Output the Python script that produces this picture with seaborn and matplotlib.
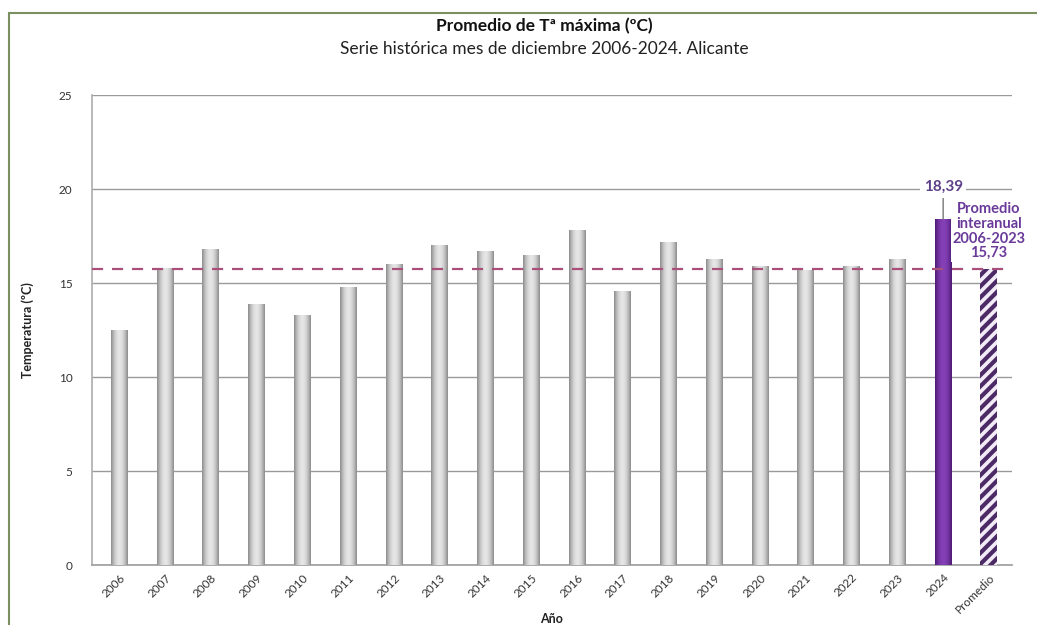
import matplotlib
matplotlib.use("Agg")
import matplotlib.pyplot as plt
import seaborn as sns
import numpy as np
import pandas as pd

years = ["2006", "2007", "2008", "2009", "2010", "2011", "2012", "2013", "2014",
         "2015", "2016", "2017", "2018", "2019", "2020", "2021", "2022", "2023",
         "2024", "Promedio"]
values = [12.5, 15.8, 16.8, 13.9, 13.3, 14.8, 16.0, 17.0, 16.7,
          16.5, 17.8, 14.6, 17.2, 16.3, 15.9, 15.7, 15.9, 16.3,
          18.39, 15.73]
kinds = ["hist"] * 18 + ["actual", "promedio"]
average = 15.73
label_2024 = "18,39"
label_prom = "Promedio\ninteranual\n2006-2023\n15,73"
yticks = [0, 5, 10, 15, 20, 25]

df = pd.DataFrame({"year": years, "value": values, "kind": kinds})

sns.set_theme(style="white")
plt.rcParams["font.family"] = ["Lato", "DejaVu Sans"]
purple_dark = "#4b2a66"
plt.rcParams["hatch.color"] = purple_dark
plt.rcParams["hatch.linewidth"] = 3.0

fig = plt.figure(figsize=(10.37, 6.25), dpi=100)
ax = fig.add_axes([0.0887, 0.096, 0.887, 0.752])

palette = {"hist": "#c4c4c4", "actual": "#6a2aa0", "promedio": "#ffffff"}
sns.barplot(data=df, x="year", y="value", hue="kind", palette=palette,
            dodge=False, width=0.37, legend=False, ax=ax, zorder=3,
            edgecolor="none")

bars = sorted(ax.patches, key=lambda p: p.get_x())
bars = [b for b in bars if b.get_height() > 0]
for b, kind in zip(bars, kinds):
    x0, w, h = b.get_x(), b.get_width(), b.get_height()
    if kind == "promedio":
        b.set_facecolor("#f3ecf7")
        b.set_hatch("///")
        b.set_edgecolor(purple_dark)
        b.set_linewidth(0)
        if hasattr(b, "set_hatch_linewidth"):
            b.set_hatch_linewidth(3.0)
        continue
    t = np.linspace(0, 1, 64)
    shade = np.sin(np.pi * (0.15 + 0.7 * t))
    if kind == "hist":
        base = np.array([0.55, 0.55, 0.55])
        top = np.array([0.90, 0.90, 0.90])
    else:
        base = np.array([0.30, 0.10, 0.45])
        top = np.array([0.52, 0.25, 0.72])
    s = (shade - shade.min()) / (shade.max() - shade.min())
    img = base[None, :] + (top - base)[None, :] * s[:, None]
    img = img[None, :, :]
    im = ax.imshow(img, extent=[x0, x0 + w, 0, h], aspect="auto", zorder=3.5,
                   interpolation="bilinear")
    im.set_clip_path(b)

ax.set_xlim(-0.6, 19.5)
ax.set_ylim(0, 25)
ax.set_yticks(yticks)
ax.set_yticklabels([str(v) for v in yticks], fontsize=8.5, color="#333333")
ax.yaxis.grid(True, color="#9a9a9a", linewidth=1.0, zorder=0)
ax.set_axisbelow(True)
for side in ["top", "right"]:
    ax.spines[side].set_visible(False)
ax.spines["left"].set_color("#b0b0b0")
ax.spines["bottom"].set_color("#a0a0a0")
ax.tick_params(axis="y", length=0, pad=14)
ax.tick_params(axis="x", length=0, pad=5)
plt.setp(ax.get_xticklabels(), rotation=45, ha="right", rotation_mode="anchor",
         fontsize=8.5, color="#333333")
ax.set_xlabel("Año", fontsize=9, fontweight="bold", color="#222222", labelpad=-2)
ax.set_ylabel("Temperatura (ºC)", fontsize=9, fontweight="bold", color="#222222",
              labelpad=18)

ax.axhline(average, xmin=0, xmax=1, color="#a8507a", linestyle=(0, (5, 4)),
           linewidth=1.6, zorder=4)

idx24 = years.index("2024")
ax.annotate(label_2024, xy=(idx24, values[idx24]), xytext=(idx24, 20.1),
            ha="center", va="center", fontsize=11, fontweight="bold",
            color="#5e4088",
            bbox=dict(boxstyle="square,pad=0.25", fc="white", ec="none"),
            arrowprops=dict(arrowstyle="-", color="#777777", lw=1.0,
                            shrinkA=0, shrinkB=0),
            zorder=6)

idxp = years.index("Promedio")
ax.text(idxp, 17.75, label_prom, ha="center", va="center", fontsize=10.5,
        fontweight="bold", color="#6a3a9a", linespacing=1.05,
        bbox=dict(boxstyle="square,pad=0.1", fc="white", ec="none"), zorder=6)

fig.text(0.525, 0.958, "Promedio de Tª máxima (ºC)", ha="center", va="center",
         fontsize=12.5, fontweight="bold", color="#111111")
fig.text(0.525, 0.922, "Serie histórica mes de diciembre 2006-2024. Alicante",
         ha="center", va="center", fontsize=12.5, color="#222222")

fig.add_artist(plt.Line2D([0.0085, 1.0], [0.979, 0.979], color="#7a9060",
                          linewidth=1.5, transform=fig.transFigure))
fig.add_artist(plt.Line2D([0.0085, 0.0085], [0.0, 0.979], color="#7a9060",
                          linewidth=1.5, transform=fig.transFigure))

fig.savefig("out.png", dpi=100)
